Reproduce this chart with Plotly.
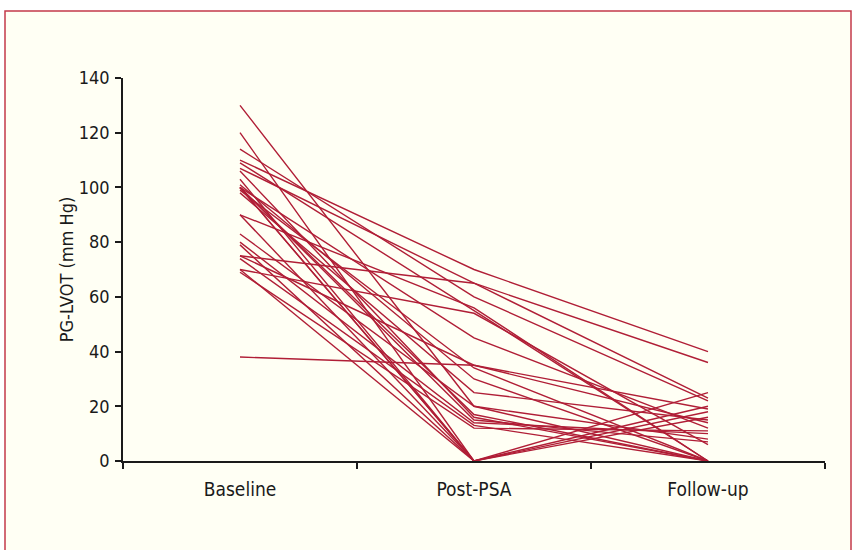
import plotly.graph_objects as go

categories = ["Baseline", "Post-PSA", "Follow-up"]

# PG-LVOT (mm Hg) per patient at each time point
baseline  = [130, 120, 114, 110, 109, 107, 103, 101, 100, 100, 100, 100, 99, 98,
             90, 90, 83, 80, 79, 75, 75, 74, 70, 70, 69, 38, 106, 100]
post_psa  = [20, 0, 60, 70, 55, 65, 0, 30, 45, 17, 15, 0, 34, 25,
             56, 0, 20, 14, 0, 65, 35, 13, 54, 0, 12, 35, 16, 0]
follow_up = [0, 25, 22, 40, 0, 36, 20, 0, 12, 0, 7, 18, 0, 15,
             0, None, 8, 10, 16, 23, 14, 0, 6, None, 11, 19, 0, None]

y_ticks = [0, 20, 40, 60, 80, 100, 120, 140]

xs, ys = [], []
for b, p, f in zip(baseline, post_psa, follow_up):
    xs += categories + [None]
    ys += [b, p, f, None]

LINE = "#B01E36"
FONT = "DejaVu Sans Condensed, Liberation Sans Narrow, sans-serif"

fig = go.Figure()
fig.add_trace(go.Scatter(x=xs, y=ys, mode="lines", connectgaps=False,
                         line=dict(color=LINE, width=1.4), hoverinfo="skip",
                         showlegend=False))

L, R, T, B = 123, 29, 78, 89
W, H = 854, 550
pw, ph = W - L - R, H - T - B
fig.add_shape(type="rect", xref="paper", yref="paper", layer="below",
              x0=(5 - L) / pw, x1=(851 - L) / pw,
              y0=(H - B - 580) / ph, y1=(H - B - 11) / ph,
              line=dict(color="#C43A4A", width=1.5), fillcolor="#FFFFF4")

fig.update_layout(
    width=W, height=H,
    margin=dict(l=L, r=R, t=T, b=B),
    paper_bgcolor="white", plot_bgcolor="rgba(0,0,0,0)",
    font=dict(family=FONT, size=18, color="#1a1a1a"),
    xaxis=dict(type="category", categoryorder="array", categoryarray=categories,
               range=[-0.5, 2.5], showgrid=False, zeroline=False,
               showline=True, linecolor="#1a1a1a", linewidth=1.5,
               ticks="outside", tickson="boundaries", ticklen=6,
               tickcolor="#1a1a1a", tickwidth=1.5,
               tickfont=dict(size=19), ticklabelstandoff=10),
    yaxis=dict(range=[0, 140], tickvals=y_ticks, showgrid=False, zeroline=False,
               showline=True, linecolor="#1a1a1a", linewidth=1.5,
               ticks="outside", ticklen=6, tickcolor="#1a1a1a", tickwidth=1.5,
               tickfont=dict(size=18), ticklabelstandoff=2,
               title=dict(text="PG-LVOT (mm Hg)", font=dict(size=18), standoff=0)),
)

fig.write_html("out.html", config={"displayModeBar": False},
               post_script="document.body.style.margin='0';")
